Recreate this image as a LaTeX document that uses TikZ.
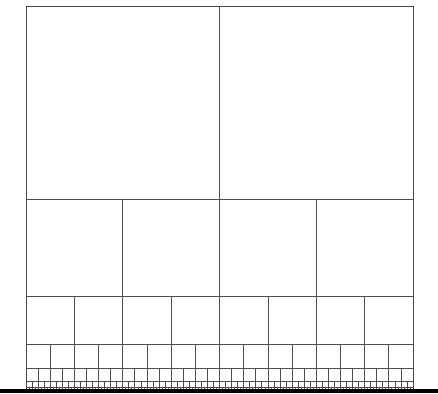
\documentclass[tikz,border=0pt]{standalone}
\begin{document}
\begin{tikzpicture}[x=1pt,y=1pt,
  sq/.style={draw=black!70,line width=0.7pt},
  base/.style={draw=black,line width=3.6pt}]
\useasboundingbox (0,0) rectangle (438,393);
\foreach \k in {0,...,8}{
  \pgfmathsetmacro{\s}{193.5/2^\k}
  \pgfmathsetmacro{\top}{393-6-387*(1-1/2^\k)}
  \pgfmathtruncatemacro{\n}{2^(\k+1)-1}
  \foreach \i in {0,...,\n}{
    \path[sq] ({26+\i*\s},\top) rectangle ++(\s,-\s);
  }
}
\coordinate (L) at (0,1.8);
\coordinate (R) at (438,1.8);
\draw[base] (L) -- (R);
\end{tikzpicture}
\end{document}
